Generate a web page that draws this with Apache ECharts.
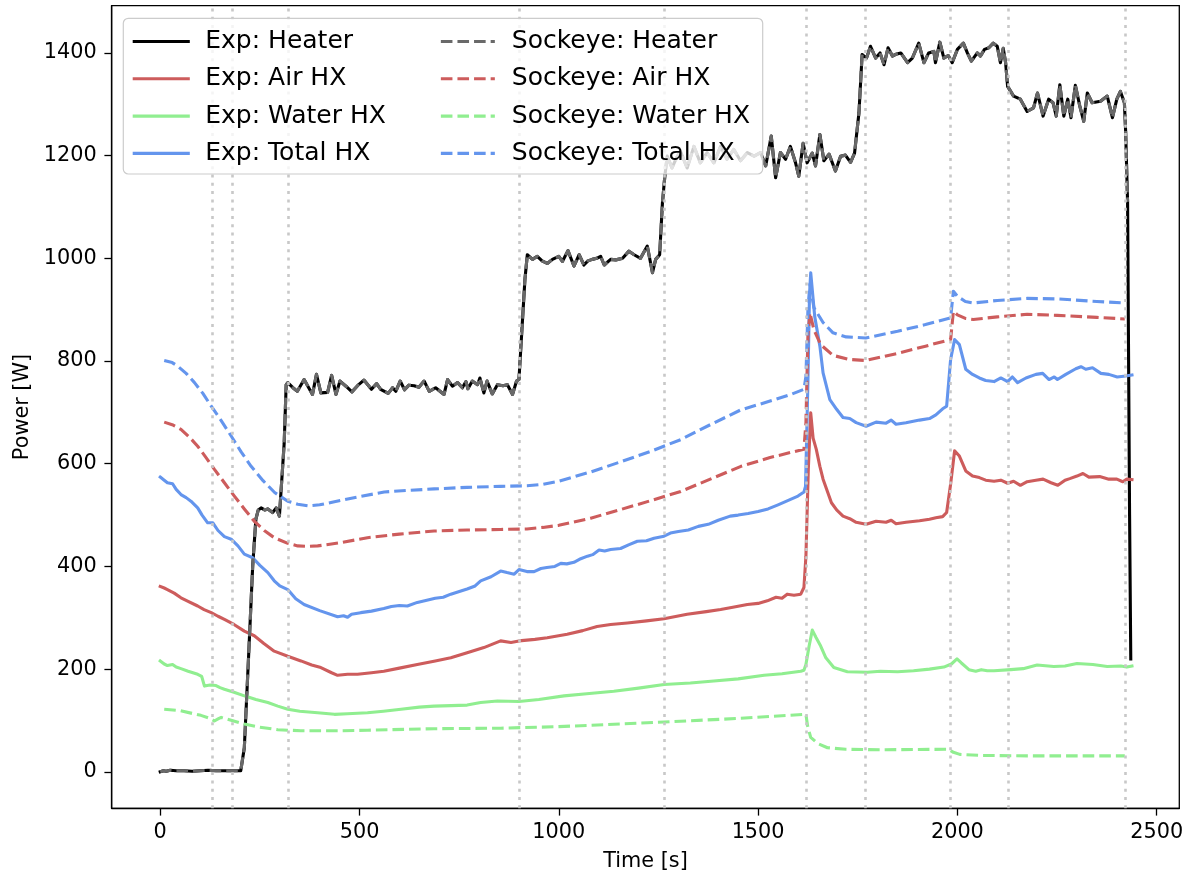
<!DOCTYPE html>
<html>
<head>
<meta charset="utf-8">
<script src="https://cdn.jsdelivr.net/npm/echarts@6/dist/echarts.min.js"></script>
<style>
html,body{margin:0;padding:0;background:#fff;}
#chart{width:1186px;height:875px;}
</style>
</head>
<body>
<div id="chart"></div>
<script>
// ---------- data (time [s], power [W]) ----------
const xTicks = [0, 500, 1000, 1500, 2000, 2500];
const yTicks = [0, 200, 400, 600, 800, 1000, 1200, 1400];
const eventTimes = [130, 181, 320, 900, 1264, 1621, 1770, 1983, 2128, 2420];

const expHeater = [[0,0],[8,2],[15,1],[25,3],[40,2],[60,2],[80,1],[100,2],[120,3],[140,2],[160,2],[180,2],[202,2],[211,47],[222,230],[232,401],[240,492],[246,510],[253,514],[262,510],[270,512],[282,505],[291,514],[299,498],[304,500],[311,640],[316,754],[320,758],
[336,746],[344,741],[361,764],[382,735],[392,774],[403,738],[420,739],[430,772],[441,735],[451,761],[466,751],[481,740],[495,752],[511,763],[530,745],[543,756],[553,745],[572,737],[583,748],[591,741],[602,761],[613,744],[624,753],[637,752],[649,749],[662,761],[675,741],[691,748],[712,735],[721,764],[733,751],[746,758],[758,748],[767,760],[772,746],[783,761],[796,754],[802,767],[812,738],[820,761],[833,736],[846,754],[860,752],[871,754],[884,735],[894,761],[900,764],[906,842],[915,959],[921,1007],
[934,998],[946,1004],[958,995],[971,990],[984,998],[1000,1004],[1009,994],[1023,1015],[1038,985],[1051,1007],[1063,987],[1073,995],[1084,998],[1095,1000],[1105,1004],[1114,987],[1130,998],[1143,997],[1160,1000],[1176,1014],[1189,1007],[1205,1000],[1222,1024],[1235,972],[1243,998],[1253,1007],[1260,1108],[1266,1160],[1272,1199],
[1284,1176],[1295,1195],[1305,1209],[1322,1176],[1339,1218],[1355,1186],[1372,1206],[1389,1186],[1406,1218],[1422,1193],[1439,1212],[1456,1190],[1473,1206],[1490,1199],[1506,1206],[1519,1180],[1533,1238],[1544,1157],[1556,1206],[1569,1193],[1581,1218],[1594,1186],[1602,1160],[1613,1224],[1623,1186],[1636,1205],[1644,1180],[1655,1241],[1665,1190],[1678,1203],[1694,1170],[1707,1199],[1719,1201],[1732,1187],[1742,1205],[1753,1283],[1761,1397],[1772,1390],[1782,1413],[1795,1390],[1806,1400],[1816,1377],[1826,1410],[1837,1394],[1848,1398],[1858,1400],[1875,1381],[1887,1390],[1903,1419],[1916,1381],[1928,1400],[1941,1403],[1945,1381],[1956,1421],[1966,1390],[1977,1395],[1987,1381],[2000,1407],[2015,1419],[2025,1400],[2035,1384],[2050,1400],[2058,1394],[2068,1407],[2079,1410],[2090,1419],[2100,1413],[2108,1381],[2115,1409],[2121,1381],[2126,1335],[2141,1316],[2158,1310],[2175,1286],[2191,1293],[2201,1322],[2215,1277],[2229,1310],[2240,1303],[2248,1277],[2257,1338],[2267,1277],[2277,1310],[2285,1274],[2296,1337],[2307,1297],[2317,1267],[2326,1322],[2338,1303],[2359,1306],[2376,1316],[2389,1274],[2400,1310],[2409,1325],[2419,1303],[2422,1250],[2427,1110],[2432,500],[2435,220]];

const expAir = [[0,361],[10,358],[18,355],[35,348],[52,339],[70,332],[94,323],[110,316],[128,310],[145,303],[161,297],[185,287],[211,274],[236,265],[260,250],[286,235],[320,225],[353,216],[380,208],[403,203],[430,193],[445,188],[470,190],[495,190],[530,193],[561,196],[600,202],[645,209],[690,216],[729,222],[770,232],[812,242],[854,255],[880,252],[900,255],[940,258],[971,261],[1021,268],[1060,275],[1096,283],[1130,287],[1172,290],[1220,294],[1264,298],[1322,307],[1370,312],[1406,316],[1440,321],[1473,326],[1500,328],[1523,333],[1545,340],[1560,338],[1573,346],[1590,344],[1607,346],[1615,359],[1620,420],[1626,590],[1632,699],[1638,650],[1646,628],[1655,595],[1663,570],[1684,524],[1697,510],[1713,498],[1730,493],[1746,486],[1771,482],[1796,488],[1821,486],[1834,490],[1846,483],[1871,486],[1905,489],[1930,492],[1946,495],[1963,497],[1973,505],[1983,560],[1993,625],[2005,615],[2021,586],[2038,576],[2055,573],[2071,568],[2092,566],[2109,568],[2126,562],[2141,566],[2158,558],[2175,565],[2197,568],[2215,570],[2235,563],[2252,558],[2270,568],[2282,571],[2300,576],[2315,581],[2330,574],[2357,575],[2380,570],[2400,570],[2415,565],[2425,570],[2438,569]];

const expWater = [[0,216],[10,210],[18,207],[31,209],[40,204],[52,201],[70,196],[94,190],[104,186],[111,167],[125,169],[140,168],[150,164],[161,161],[185,155],[211,148],[240,141],[270,135],[295,128],[320,122],[350,118],[395,115],[437,112],[470,113],[520,115],[560,118],[604,122],[650,126],[687,128],[730,129],[770,130],[804,135],[846,138],[900,137],[950,141],[1013,148],[1070,152],[1138,157],[1200,163],[1264,170],[1330,173],[1389,177],[1450,181],[1515,188],[1560,191],[1607,196],[1615,198],[1620,209],[1628,245],[1636,276],[1645,262],[1657,245],[1670,222],[1690,203],[1724,195],[1774,194],[1807,196],[1850,195],[1890,197],[1930,200],[1966,204],[1985,210],[1999,220],[2010,212],[2029,199],[2046,196],[2060,199],[2075,197],[2092,197],[2134,199],[2165,201],[2200,208],[2242,205],[2270,206],[2300,211],[2340,209],[2376,205],[2410,206],[2425,204],[2438,206]];

const expTotal = [[0,574],[10,568],[18,563],[31,561],[40,550],[52,540],[65,534],[77,527],[94,514],[105,500],[119,485],[132,485],[145,470],[161,458],[178,453],[195,440],[211,424],[232,417],[250,402],[270,388],[286,372],[300,362],[320,355],[340,337],[361,326],[400,314],[445,302],[460,304],[470,301],[480,307],[503,310],[530,313],[561,318],[580,322],[600,324],[620,323],[645,330],[690,338],[710,340],[729,346],[770,356],[790,362],[804,372],[830,380],[854,391],[870,388],[888,385],[900,394],[920,390],[938,390],[955,396],[970,398],[990,400],[1005,406],[1020,405],[1038,408],[1055,415],[1072,420],[1085,423],[1101,432],[1115,430],[1130,433],[1155,435],[1175,442],[1197,449],[1220,450],[1239,455],[1264,459],[1280,465],[1300,468],[1325,471],[1350,478],[1375,482],[1400,490],[1430,498],[1450,500],[1475,503],[1500,507],[1525,512],[1550,520],[1580,530],[1600,537],[1615,545],[1619,556],[1625,760],[1629,930],[1632,972],[1642,887],[1655,829],[1663,777],[1680,725],[1697,706],[1713,690],[1730,688],[1746,680],[1771,673],[1796,681],[1821,679],[1834,685],[1846,677],[1871,680],[1905,685],[1930,688],[1946,695],[1963,707],[1973,712],[1983,803],[1993,842],[2005,832],[2021,784],[2038,774],[2055,767],[2071,762],[2092,760],[2109,767],[2126,760],[2138,769],[2151,758],[2172,767],[2197,774],[2214,776],[2230,764],[2243,769],[2251,764],[2272,774],[2297,785],[2310,789],[2322,784],[2339,787],[2360,776],[2380,774],[2401,769],[2422,771],[2438,773]];

const simHeater = expHeater.filter(p => p[0] <= 2427);

const simAir = [[10,681],[30,676],[52,667],[73,652],[94,634],[115,612],[136,589],[161,563],[186,537],[211,512],[236,488],[261,470],[286,456],[320,445],[345,440],[370,439],[395,440],[450,446],[520,456],[600,463],[687,469],[770,471],[854,472],[920,473],[960,476],[1000,480],[1080,494],[1156,511],[1230,528],[1306,546],[1380,570],[1457,595],[1530,612],[1582,622],[1615,628],[1620,680],[1625,850],[1630,894],[1640,861],[1657,832],[1688,811],[1730,803],[1770,801],[1850,815],[1920,829],[1983,842],[1990,897],[2000,890],[2020,883],[2040,881],[2100,886],[2175,891],[2250,889],[2350,885],[2420,882]];

const simWater = [[10,122],[50,119],[102,110],[125,104],[136,99],[145,103],[153,106],[180,100],[211,93],[250,87],[295,82],[353,80],[450,80],[520,81],[687,84],[854,85],[1000,88],[1264,97],[1450,104],[1620,112],[1624,90],[1632,67],[1650,55],[1674,47],[1720,44],[1807,43],[1977,44],[1990,38],[2006,34],[2057,32],[2200,31],[2420,31]];

const simTotal = [[10,801],[30,797],[44,790],[65,776],[86,758],[107,737],[128,712],[153,684],[178,654],[203,623],[228,595],[258,567],[287,544],[320,527],[345,521],[371,518],[400,520],[437,526],[500,536],[562,545],[620,548],[687,551],[770,554],[854,556],[920,557],[960,560],[1000,566],[1080,584],[1156,604],[1230,624],[1306,647],[1380,676],[1457,705],[1530,722],[1582,735],[1615,745],[1620,770],[1625,900],[1630,950],[1640,904],[1663,875],[1688,855],[1721,847],[1770,845],[1850,858],[1920,871],[1983,884],[1990,936],[2000,926],[2020,916],[2040,913],[2100,918],[2175,922],[2250,921],[2350,916],[2420,913]];

const seriesNames = ['Exp: Heater','Exp: Air HX','Exp: Water HX','Exp: Total HX','Sockeye: Heater','Sockeye: Air HX','Sockeye: Water HX','Sockeye: Total HX'];
const seriesData = [expHeater, expAir, expWater, expTotal, simHeater, simAir, simWater, simTotal];
const seriesColors = ['#000000','#cd5c5c','#90ee90','#6495ed','#696969','#cd5c5c','#90ee90','#6495ed'];

// ---------- chart ----------
const FONT = 'DejaVu Sans';
const LW = 3.1;
const DASH = [11.6, 5];

const chart = echarts.init(document.getElementById('chart'), null, {renderer: 'canvas'});

const lineSeries = seriesNames.map((name, i) => ({
  name: name,
  type: 'line',
  data: seriesData[i],
  symbol: 'none',
  showSymbol: false,
  animation: false,
  silent: true,
  z: 3,
  lineStyle: {
    color: seriesColors[i],
    width: LW,
    type: i < 4 ? 'solid' : DASH,
    join: 'round',
    cap: i < 4 ? 'square' : 'butt'
  },
  itemStyle: {color: seriesColors[i]}
}));

const eventSeries = {
  name: 'events',
  type: 'line',
  data: [],
  z: 1,
  silent: true,
  animation: false,
  markLine: {
    symbol: 'none',
    silent: true,
    animation: false,
    label: {show: false},
    lineStyle: {color: '#c8c8c8', width: 2.6, type: [3, 5.3], cap: 'butt'},
    data: eventTimes.map(t => ({xAxis: t}))
  }
};

const legendCommon = {
  orient: 'vertical',
  top: 29,
  padding: 0,
  itemGap: 12.3,
  itemWidth: 54,
  itemHeight: 14,
  selectedMode: false,
  z: 20,
  textStyle: {fontFamily: FONT, fontSize: 25, color: '#000', padding: [0, 0, 0, 12]},
  itemStyle: {color: 'rgba(0,0,0,0)', borderWidth: 0},
  lineStyle: {width: LW}
};

const plainNum = v => String(v);

const option = {
  backgroundColor: '#fff',
  animation: false,
  textStyle: {fontFamily: FONT},
  grid: {
    left: 111.7, top: 5.7, width: 1067.6, height: 802.6,
    outerBoundsMode: 'none',
    containLabel: false,
    show: true, borderColor: '#000', borderWidth: 1.3, backgroundColor: 'transparent'
  },
  xAxis: {
    type: 'value',
    min: -121.75, max: 2556.75,
    name: 'Time [s]',
    nameLocation: 'middle',
    nameGap: 43,
    nameTextStyle: {fontFamily: FONT, fontSize: 20.8, color: '#000'},
    axisLine: {show: true, onZero: false, lineStyle: {color: '#000', width: 1.3}},
    axisTick: {show: true, length: 7.3, lineStyle: {color: '#000', width: 1.3}, customValues: xTicks},
    axisLabel: {fontFamily: FONT, fontSize: 20.8, color: '#000', margin: 14, customValues: xTicks, formatter: plainNum},
    splitLine: {show: false}
  },
  yAxis: {
    type: 'value',
    min: -71, max: 1492,
    name: 'Power [W]',
    nameLocation: 'middle',
    nameRotate: 90,
    nameGap: 71,
    nameTextStyle: {fontFamily: FONT, fontSize: 20.8, color: '#000'},
    axisLine: {show: true, onZero: false, lineStyle: {color: '#000', width: 1.3}},
    axisTick: {show: true, length: 7.3, lineStyle: {color: '#000', width: 1.3}, customValues: yTicks},
    axisLabel: {fontFamily: FONT, fontSize: 20.8, color: '#000', margin: 15, customValues: yTicks, formatter: plainNum},
    splitLine: {show: false}
  },
  legend: [
    Object.assign({}, legendCommon, {left: 132.7, data: seriesNames.slice(0, 4)}),
    Object.assign({}, legendCommon, {left: 439.3, data: seriesNames.slice(4)})
  ],
  graphic: [{
    type: 'rect',
    z: 15,
    silent: true,
    shape: {x: 123.3, y: 18.3, width: 639.4, height: 155.7, r: 5},
    style: {fill: 'rgba(255,255,255,0.8)', stroke: '#cccccc', lineWidth: 1.2}
  }],
  series: [eventSeries].concat(lineSeries)
};

chart.setOption(option);
</script>
</body>
</html>
